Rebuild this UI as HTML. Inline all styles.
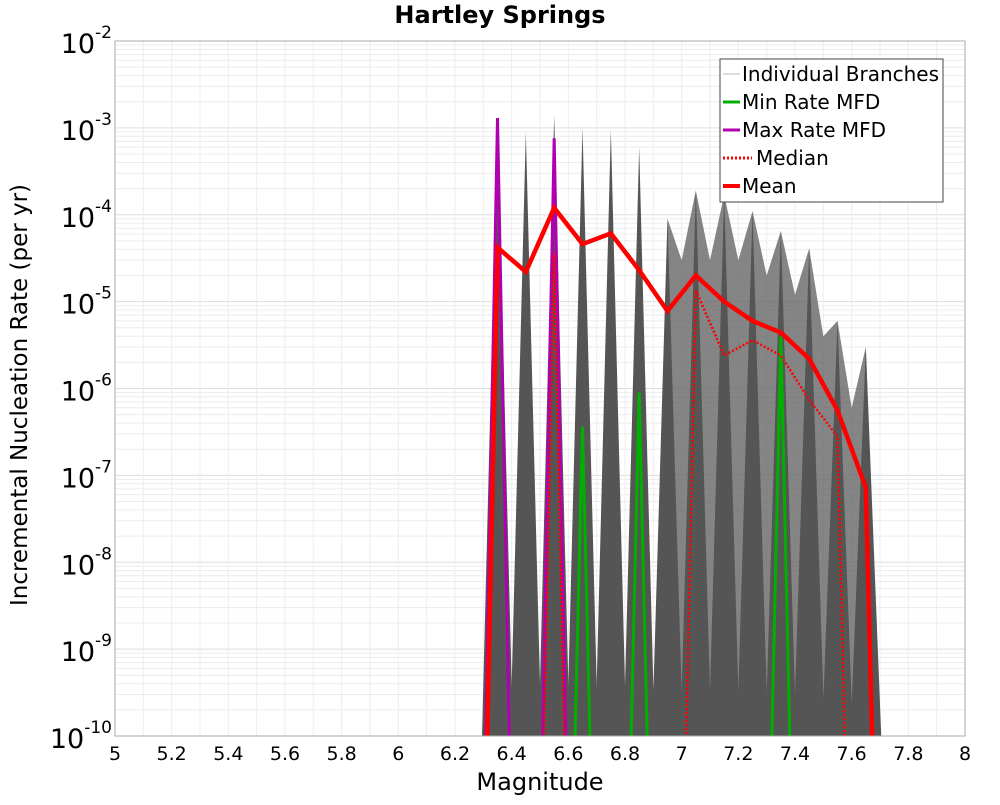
<!DOCTYPE html>
<html><head><meta charset="utf-8"><style>
body{margin:0;background:#fff;font-family:"Liberation Sans","DejaVu Sans",sans-serif}
</style></head><body>
<svg id="chart" width="1000" height="800" xmlns="http://www.w3.org/2000/svg" font-family="DejaVu Sans, Liberation Sans, sans-serif">
<text x="500" y="23" text-anchor="middle" font-size="24" font-weight="bold">Hartley Springs</text>
<g id="grid"></g>
<g id="marks"></g>
<rect x="115" y="41" width="850" height="695" fill="none" stroke="#aaa"/>
<g id="axes"></g>
<text x="540" y="790" text-anchor="middle" font-size="24">Magnitude</text>
<text transform="translate(27,395) rotate(-90)" text-anchor="middle" font-size="23">Incremental Nucleation Rate (per yr)</text>
<g>
<rect x="720" y="59" width="223" height="143" fill="#fff" stroke="#444"/>
<line x1="723" y1="74" x2="740" y2="74" stroke="#bbb" stroke-width="1"/>
<text x="742" y="81" font-size="20">Individual Branches</text>
<line x1="723" y1="102" x2="740" y2="102" stroke="#00b000" stroke-width="3"/>
<text x="742" y="109" font-size="20">Min Rate MFD</text>
<line x1="723" y1="130" x2="740" y2="130" stroke="#b000b0" stroke-width="3"/>
<text x="742" y="137" font-size="20">Max Rate MFD</text>
<line x1="723" y1="158" x2="752" y2="158" stroke="#f00" stroke-width="3" stroke-dasharray="2,2"/>
<text x="756" y="165" font-size="20">Median</text>
<line x1="723" y1="186" x2="740" y2="186" stroke="#f00" stroke-width="4"/>
<text x="742" y="193" font-size="20">Mean</text>
</g>
</svg>
<script>
const mags=[6.25,6.35,6.45,6.55,6.65,6.75,6.85,6.95,7.05,7.15,7.25,7.35,7.45,7.55,7.65,7.75];
const meanVals=[1e-20,4.2e-5,2.2e-5,1.2e-4,4.6e-5,6.1e-5,2.3e-5,7.8e-6,2.0e-5,1.0e-5,6e-6,4.4e-6,2.2e-6,5.6e-7,7.2e-8,1e-20];
const medianVals=[1e-20,1e-20,1e-20,3.6e-5,1e-20,1e-20,1e-20,1e-20,1.35e-5,2.4e-6,3.6e-6,2.4e-6,7.4e-7,2.8e-7,1e-20,1e-20];
const minVals=[1e-20,1e-20,1e-20,1e-20,3.6e-7,1e-20,9e-7,1e-20,1e-20,1e-20,1e-20,4e-6,1e-20,1e-20,1e-20,1e-20];
const maxVals=[1e-20,1.3e-3,1e-20,7.6e-4,1e-20,1e-20,1e-20,1e-20,1e-20,1e-20,1e-20,1e-20,1e-20,1e-20,1e-20,1e-20];
const branchPeak=[1e-20,1.2e-3,8.9e-4,1.4e-3,1e-3,9.5e-4,6e-4,9e-5,1.9e-4,1.7e-4,1.1e-4,6.5e-5,4.1e-5,6e-6,3.0e-6,1e-20];
const branchValley=[1e-20,1e-20,1e-20,1e-20,1e-20,1e-20,1e-20,2e-5,3e-5,3e-5,2e-5,1.2e-5,4e-6,6e-7,1e-20,1e-20];
const xTicks=[5,5.2,5.4,5.6,5.8,6,6.2,6.4,6.6,6.8,7,7.2,7.4,7.6,7.8,8];
const yExps=[-2,-3,-4,-5,-6,-7,-8,-9,-10];
const NS="http://www.w3.org/2000/svg";
const X=m=>115+(m-5)/3*850;
const Y=v=>{let l=Math.log10(v);return 41+(-2-l)/8*695;};
function mk(tag,attrs,parent){const e=document.createElementNS(NS,tag);for(const k in attrs)e.setAttribute(k,attrs[k]);parent.appendChild(e);return e;}
const grid=document.getElementById('grid'),marks=document.getElementById('marks'),axes=document.getElementById('axes');
for(let e=-10;e<-2;e++)for(let k=1;k<10;k++){const y=Y(k*Math.pow(10,e));
 const l=mk('line',{x1:115,x2:965,y1:y,y2:y,stroke:k==1?'#ddd':'#ececec','stroke-width':1},grid);
 
 }
for(let m=5;m<=8.001;m+=0.1){const x=X(m);
 const l=mk('line',{x1:x,x2:x,y1:41,y2:736,stroke:'#eee','stroke-width':1},grid);
 
 }
const clip=mk('clipPath',{id:'pc'},marks);mk('rect',{x:115,y:41,width:850,height:695},clip);
const g=mk('g',{'clip-path':'url(#pc)'},marks);
let pts=[X(6.9)+',740'];for(let i=7;i<=14;i++){pts.push(X(mags[i])+','+Y(branchPeak[i]));if(i<14)pts.push(X(mags[i]+0.05)+','+Y(Math.max(branchValley[i],branchValley[i+1],1e-11)));}
pts.push(X(7.7)+',740');
const env=mk('polygon',{points:pts.join(' '),fill:'#666','fill-opacity':0.8},g);


for(let i=0;i<mags.length;i++){if(branchPeak[i]<1e-11)continue;
 const p=mk('polygon',{points:`${X(mags[i]-0.055)},740 ${X(mags[i])},${Y(branchPeak[i])} ${X(mags[i]+0.055)},740`,fill:'#555'},g);
 
 }
function line(vals,attrs,name){const p=mk('polyline',Object.assign({points:mags.map((m,i)=>X(m)+','+Y(vals[i])).join(' '),fill:'none','stroke-linejoin':'miter'},attrs),g);
 
 }
line(minVals,{stroke:'#00b000','stroke-width':3},'min-rate-line');
line(maxVals,{stroke:'#b000b0','stroke-width':3},'max-rate-line');
line(medianVals,{stroke:'#f00','stroke-width':2.5,'stroke-dasharray':'2,2'},'median-line');
line(meanVals,{stroke:'#f00','stroke-width':4.5},'mean-line');
xTicks.forEach(t=>{const tx=mk('text',{x:X(t),y:760,'text-anchor':'middle','font-size':19},axes);tx.textContent=String(t);
 
 });
yExps.forEach(e=>{const tx=mk('text',{x:112,y:Y(Math.pow(10,e))+12,'text-anchor':'end','font-size':27},axes);
 
 
 tx.appendChild(document.createTextNode('10'));const s=mk('tspan',{dy:-15,'font-size':17},tx);s.textContent=String(e);});
</script>
</body></html>
